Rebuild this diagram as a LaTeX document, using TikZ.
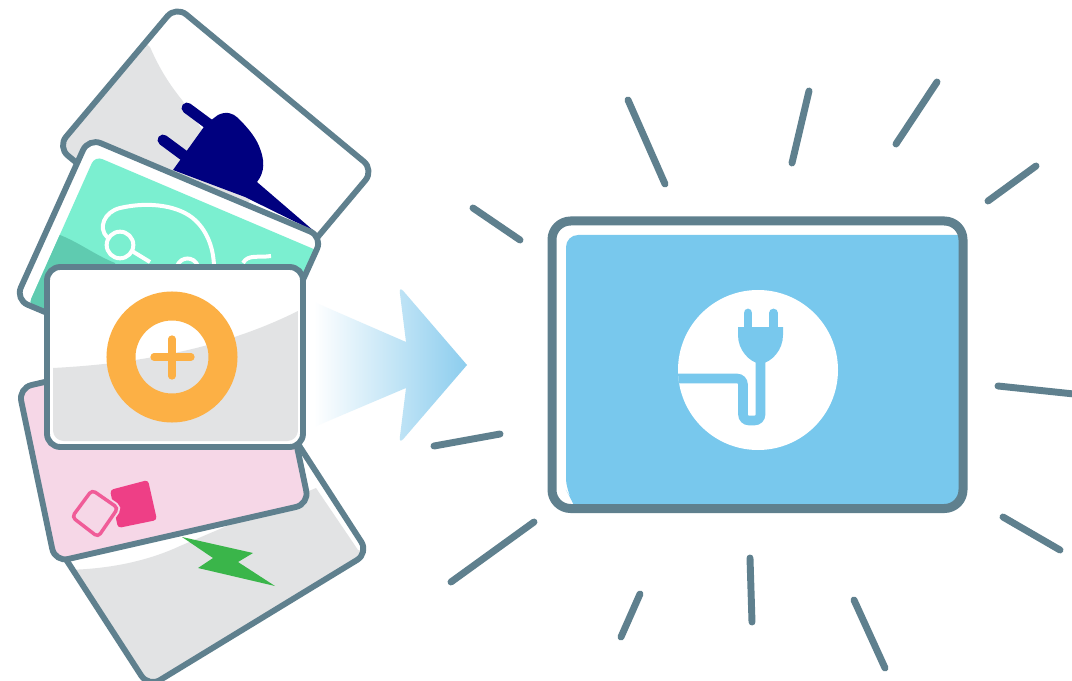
\documentclass[tikz,border=0pt]{standalone}
\definecolor{edgec}{HTML}{5F808E}
\definecolor{greyc}{HTML}{E2E3E4}
\definecolor{mintc}{HTML}{7BEFD0}
\definecolor{mintd}{HTML}{5FCBB0}
\definecolor{pinkc}{HTML}{F6D7E7}
\definecolor{hotc}{HTML}{EE3F86}
\definecolor{navyc}{HTML}{00007F}
\definecolor{boltc}{HTML}{3AB54A}
\definecolor{orangec}{HTML}{FCB045}
\definecolor{bluec}{HTML}{78C8ED}
\definecolor{arrowc}{HTML}{8CCDEE}
\tikzset{
  rayline/.style={draw=edgec,line width=5.2pt,line cap=round},
  cardedge/.style={draw=edgec,line width=4.4pt,rounded corners=10pt},
}
\def\cardA{(275,88) -- (374,170) -- (255.5,311) -- (57.5,147) -- (176,6) -- cycle}
\def\cardB{(205.5,187.5) -- (322.5,236.7) -- (249.5,398) -- (15.4,299.6) -- (88.5,138) -- cycle}
\def\cardC{(145,359) -- (272.5,330) -- (309,504) -- (55,562) -- (18.5,388) -- cycle}
\def\cardD{(173,483) -- (278,413) -- (368.5,553) -- (148.6,687) -- (58,547) -- cycle}
\def\cardE{(174,267) -- (303,267) -- (303,447) -- (47,447) -- (47,267) -- cycle}
\begin{document}
\begin{tikzpicture}[x=0.75pt,y=-0.75pt]
\useasboundingbox (0,0) rectangle (1072,681);
\fill[white] (0,0) rectangle (1072,681);
% card 1
\fill[white,rounded corners=10pt] \cardA;
\begin{scope}
  \clip[rounded corners=10pt] \cardA;
  \fill[greyc] (150,47) .. controls (160,70) and (170,85) .. (182,100) -- (250,200) -- (200,260) -- (30,160) -- (130,30) -- cycle;
  \fill[navyc] (206,124) -- (218,115) .. controls (226,111) and (233,113) .. (238,118) .. controls (246,126) and (255,136) .. (259,146) .. controls (265,160) and (265,172) .. (257,182) -- (314,231) -- (245,197) -- (173,170) -- cycle;
\end{scope}
\draw[navyc,line width=8.2pt,line cap=round] (187,108) -- (210,125);
\draw[navyc,line width=8.2pt,line cap=round] (163,140) -- (186,157);
\draw[cardedge] \cardA;
% card 4
\fill[white,rounded corners=10pt] \cardD;
\begin{scope}
  \clip[rounded corners=10pt] \cardD;
  \fill[greyc] (60,570) .. controls (110,570) and (150,560) .. (180,546) -- (316,488) -- (358,550) -- (400,560) -- (160,700) -- cycle;
\end{scope}
\fill[boltc] (182,537) -- (253,553) -- (238,562) -- (275,586) -- (198,568) -- (213,558) -- cycle;
\draw[cardedge] \cardD;
% card 2
\fill[white,rounded corners=10pt] \cardB;
\begin{scope}
  \clip[rounded corners=10pt] \cardB;
  \begin{scope}
    \clip[rounded corners=6pt] (95,156) -- (330,256) -- (250,410) -- (28,306) -- cycle;
    \fill[mintc] (0,130) rectangle (340,410);
    \fill[mintd] (60,235) .. controls (80,243) and (95,255) .. (115,263) -- (120,320) -- (20,320) -- (30,260) -- cycle;
  \end{scope}
  \draw[white,line width=3pt,line cap=round] (107,237) .. controls (98,228) and (104,212) .. (120,208) .. controls (150,201) and (180,206) .. (195,220) .. controls (208,232) and (214,250) .. (214,268);
  \draw[white,line width=3pt] (120,245) circle (10pt);
  \draw[white,line width=3pt] (132,251) -- (150,262);
  \draw[white,line width=3pt] (177,266) .. controls (181,256) and (194,256) .. (198,266);
  \draw[white,line width=3pt] (243,263) .. controls (248,254) and (258,258) .. (271,256);
\end{scope}
\draw[cardedge] \cardB;
% card 3
\fill[pinkc,rounded corners=10pt] \cardC;
\fill[hotc,rounded corners=2.5pt] (110,490) -- (148,480) -- (157,520) -- (118,528) -- cycle;
\draw[pinkc,line width=5.5pt,rounded corners=3pt] (92,490) -- (118,508) -- (98,537) -- (72,517) -- cycle;
\draw[hotc!85!white,line width=2.6pt,rounded corners=3pt] (92,490) -- (118,508) -- (98,537) -- (72,517) -- cycle;
\draw[cardedge] \cardC;
% card 5
\fill[white,rounded corners=10pt] \cardE;
\begin{scope}
  \clip[rounded corners=8pt] (53,273) rectangle (298,441);
  \fill[greyc] (53,368) .. controls (150,363) and (230,345) .. (298,311) -- (298,441) -- (53,441) -- cycle;
\end{scope}
\draw[orangec,line width=21.75pt] (172,357) circle (38.25pt);
\draw[orangec,line width=5.4pt,line cap=round] (154,357) -- (191,357);
\draw[orangec,line width=5.4pt,line cap=round] (172,339) -- (172,376);
\draw[cardedge] \cardE;
% arrow
\shade[left color=white,right color=arrowc] (314,302) -- (406,342) [rounded corners=5pt] -- (399,286) [sharp corners] -- (467,365) [rounded corners=5pt] -- (399,444) [sharp corners] -- (406,388) -- (314,427) -- cycle;
% main panel
\fill[white,rounded corners=14pt] (552,221) rectangle (963,508.5);
\begin{scope}
  \clip[rounded corners=14pt] (552,221) rectangle (963,508.5);
  \fill[bluec,rounded corners=9pt] (566,235) -- (975,235) -- (975,520) -- (580,520) -- (572,500) -- (566,490) -- cycle;
\end{scope}
\draw[draw=edgec,line width=6.75pt,rounded corners=14pt] (552,221) rectangle (963,508.5);
\fill[white] (758,370) circle (60pt);
\begin{scope}
  \clip (758,370) circle (60pt);
  \draw[bluec,line width=7.2pt,rounded corners=4.5pt] (670,378.5) -- (743,378.5) -- (743,420.5) -- (760.5,420.5) -- (760.5,355);
\end{scope}
\fill[bluec] (738,327) -- (783,327) -- (783,335) .. controls (783,350) and (772,362) .. (760.5,364) .. controls (749,362) and (738,350) .. (738,335) -- cycle;
\draw[bluec,line width=6.6pt,line cap=round] (748,313) -- (748,330);
\draw[bluec,line width=6.6pt,line cap=round] (773.5,313) -- (773.5,330);
% rays
\draw[rayline] (628,100) -- (665,184);
\draw[rayline] (809,91) -- (792,163);
\draw[rayline] (937,82) -- (896,144);
\draw[rayline] (1036,166) -- (988,201);
\draw[rayline] (473,208) -- (520,240);
\draw[rayline] (998,386) -- (1074,394);
\draw[rayline] (434,446) -- (500,434);
\draw[rayline] (534,522) -- (451,582);
\draw[rayline] (1003,517) -- (1060,550);
\draw[rayline] (750,558) -- (752,622);
\draw[rayline] (640,594) -- (621,637);
\draw[rayline] (854,600) -- (885,668);
\end{tikzpicture}
\end{document}
